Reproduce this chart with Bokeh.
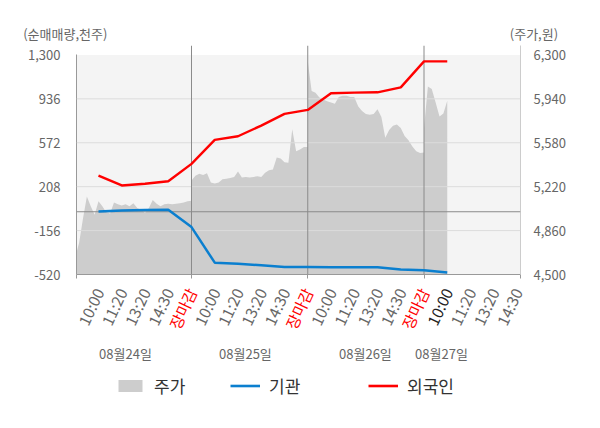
from bokeh.plotting import figure
from bokeh.layouts import column
from bokeh.models import (Range1d, LinearAxis, FixedTicker, NumeralTickFormatter, Span,
                          Legend, LegendItem, BoxAnnotation)
from bokeh.core.properties import value
from bokeh.embed import file_html
from bokeh.resources import INLINE

# ---------------- data ----------------
time_labels = ["10:00", "11:20", "13:20", "14:30", "장마감"] * 3 + ["10:00", "11:20", "13:20", "14:30"]
date_labels = ["08월24일", "08월25일", "08월26일", "08월27일"]

# net buying volume (thousand shares), one value per tick
institution = [3, 11, 15, 17, -127, -422, -430, -444, -458, -458, -460, -460, -460, -479, -485, -504]
foreign = [300, 218, 232, 253, 397, 596, 626, 714, 811, 844, 982, 987, 990, 1031, 1246, 1246]

# stock price (won), intraday samples per day
price_day1 = [4640, 4760, 4960, 5140, 5060, 4990, 5100, 5060, 5010, 5000, 5090, 5075, 5065, 5075, 5060,
              5085, 5045, 5030, 5005, 5045, 5110, 5080, 5060, 5075, 5080, 5075, 5080, 5085, 5090, 5100, 5105]
price_day2 = [5270, 5310, 5325, 5315, 5330, 5255, 5245, 5255, 5280, 5285, 5290, 5300, 5345, 5295, 5300,
              5295, 5300, 5305, 5300, 5335, 5355, 5360, 5460, 5450, 5420, 5415, 5690, 5510, 5525, 5545, 5545]
price_day3 = [6250, 6005, 5990, 5950, 5935, 5920, 5910, 5900, 5955, 5965, 5965, 5955, 5955, 5880, 5840,
              5815, 5810, 5815, 5855, 5790, 5620, 5685, 5720, 5730, 5700, 5635, 5600, 5550, 5510, 5495, 5500]
price_day4 = [5700, 6040, 6020, 5910, 5795, 5820, 5925]

left_ticks = [-520, -156, 208, 572, 936, 1300]
right_ticks = [4500, 4860, 5220, 5580, 5940, 6300]

# ---------------- layout constants ----------------
FONT = "Noto Sans CJK KR"
W = 592
TOP_H = 45          # strip with axis titles
FRAME_H = 229       # plot frame height
AXIS_H = 9          # band under the frame (ticks + room for axis labels)
TICK_LEN = 4
BOT_H = 420 - TOP_H - FRAME_H - AXIS_H
ML, MR = 76, W - 520
X0, X1 = -0.946, 18.15
PXU = (W - ML - MR) / (X1 - X0)   # pixels per tick unit
PAD = 0.0428
TICKS_PER_DAY = 5
SAMPLES_PER_TICK = 6
DATE_POS = [1.16, 6.32, 11.48, 14.75]
day_bounds = [4, 9, 14]
NAN = float("nan")

px, py = [], []
for d, arr in enumerate([price_day1, price_day2, price_day3, price_day4]):
    start = TICKS_PER_DAY * d - 1
    for k, v in enumerate(arr):
        px.append(start + k / SAMPLES_PER_TICK)
        py.append(v)

tick_x = list(range(len(time_labels)))
line_x = list(range(len(foreign)))

lmin, lmax = left_ticks[0], left_ticks[-1]
rmin, rmax = right_ticks[0], right_ticks[-1]

RED = "#ff0000"
BLUE = "#0b7fcf"
AREA = "#cdcdcd"


def bare(fig):
    fig.outline_line_color = None
    fig.background_fill_color = "white"
    fig.border_fill_color = "white"
    fig.grid.visible = False
    fig.frame_align = False
    return fig


# ---------------- top strip: axis titles ----------------
p0 = bare(figure(width=W, height=TOP_H, x_range=Range1d(0, W), y_range=Range1d(0, TOP_H),
                 output_backend="svg", toolbar_location=None, x_axis_location=None,
                 y_axis_location=None, min_border=0, title=None))
p0.text(x=[22.7], y=[TOP_H - 33], text=["(순매매량,천주)"], text_baseline="middle",
        text_align="left", text_font=value(FONT), text_font_size="13px", text_color="#666666")
p0.text(x=[509.3], y=[TOP_H - 33], text=["(주가,원)"], text_baseline="middle",
        text_align="left", text_font=value(FONT), text_font_size="13px", text_color="#666666")

# ---------------- main chart ----------------
p = bare(figure(width=W, height=FRAME_H + AXIS_H, x_range=Range1d(X0, X1),
                y_range=Range1d(lmin, lmax + (lmax - lmin) * PAD),
                output_backend="svg", toolbar_location=None, title=None,
                min_border_left=ML, min_border_right=MR, min_border_top=0,
                min_border_bottom=AXIS_H))
p.extra_y_ranges = {"price": Range1d(rmin, rmax + (rmax - rmin) * PAD)}

p.add_layout(BoxAnnotation(bottom=lmin, top=lmax, fill_color="#f4f4f4", fill_alpha=1,
                           line_color=None, level="underlay"))

area = p.varea(x=px, y1=rmin, y2=py, fill_color=AREA, y_range_name="price")

for v in left_ticks[1:-1]:
    p.add_layout(Span(location=v, dimension="width", line_color="#dcdcdc", line_width=1))
p.add_layout(Span(location=0, dimension="width", line_color="#8a8a8a", line_width=1))
for b in day_bounds:
    p.add_layout(Span(location=b, dimension="height", line_color="#8a8a8a", line_width=1))

p.line(line_x, institution, line_color=BLUE, line_width=2.5, level="overlay")
p.line(line_x, foreign, line_color=RED, line_width=2.4, level="overlay")

ly = p.yaxis[0]
ly.ticker = FixedTicker(ticks=left_ticks)
ly.formatter = NumeralTickFormatter(format="0,0")
ly.bounds = (lmin, lmax)
ly.axis_line_color = "#999999"
ly.major_tick_line_color = None
ly.minor_tick_line_color = None
ly.major_label_standoff = 10
ly.major_label_text_font = FONT
ly.major_label_text_font_size = "13px"
ly.major_label_text_color = "#666666"

ry = LinearAxis(y_range_name="price", ticker=FixedTicker(ticks=right_ticks),
                formatter=NumeralTickFormatter(format="0,0"))
ry.axis_line_color = "#cccccc"
ry.major_tick_line_color = None
ry.minor_tick_line_color = None
ry.major_label_standoff = 7
ry.major_label_text_font = FONT
ry.major_label_text_font_size = "13px"
ry.major_label_text_color = "#666666"
p.add_layout(ry, "right")

bx = p.xaxis[0]
bx.ticker = FixedTicker(ticks=[], minor_ticks=[X0] + day_bounds + [X1])
bx.major_label_text_font_size = "0px"
bx.major_label_standoff = 0
bx.major_tick_line_color = None
bx.major_tick_in = 0
bx.major_tick_out = 0
bx.minor_tick_in = 0
bx.minor_tick_out = TICK_LEN
bx.minor_tick_line_color = "#999999"
bx.axis_line_color = "#999999"

# ---------------- bottom strip: tick labels, dates, legend ----------------
# y in this strip = pixels below the chart frame bottom (negative downward)
p2 = bare(figure(width=W, height=BOT_H,
                 x_range=Range1d(X0 - ML / PXU, X0 + (W - ML) / PXU),
                 y_range=Range1d(-(AXIS_H + BOT_H), -AXIS_H),
                 output_backend="svg", toolbar_location=None, x_axis_location=None,
                 y_axis_location=None, min_border=0, title=None))

colors = []
for i, t in enumerate(time_labels):
    if t == "장마감":
        colors.append(RED)
    elif i == len(foreign) - 1:
        colors.append("#222222")
    else:
        colors.append("#666666")
p2.text(x=tick_x, y=[-14.5] * len(tick_x), text=time_labels, text_color=colors,
        angle=65, angle_units="deg", text_align="right", text_baseline="middle",
        x_offset=0, text_font=value(FONT), text_font_size="15.5px")

p2.text(x=DATE_POS, y=[-79] * len(DATE_POS), text=date_labels, text_color="#666666",
        text_align="center", text_baseline="middle", text_font=value(FONT),
        text_font_size="13px")

lg_area = p2.varea(x=[NAN], y1=[NAN], y2=[NAN], fill_color=AREA)
lg_inst = p2.line(x=[NAN], y=[NAN], line_color=BLUE, line_width=2.6)
lg_for = p2.line(x=[NAN], y=[NAN], line_color=RED, line_width=2.6)

for lab, rend, xloc in [("주가", lg_area, 115), ("기관", lg_inst, 230), ("외국인", lg_for, 368)]:
    leg = Legend(items=[LegendItem(label=lab, renderers=[rend])],
                 location=(xloc, BOT_H + AXIS_H + 274 - 398),
                 orientation="horizontal", glyph_width=30, glyph_height=15, label_standoff=9,
                 padding=0, margin=0, border_line_color=None, background_fill_alpha=0,
                 label_text_font=FONT, label_text_font_size="17px", label_text_color="#333333")
    p2.add_layout(leg)

layout = column(p0, p, p2, spacing=0)
open("out.html", "w").write(file_html(layout, INLINE))
